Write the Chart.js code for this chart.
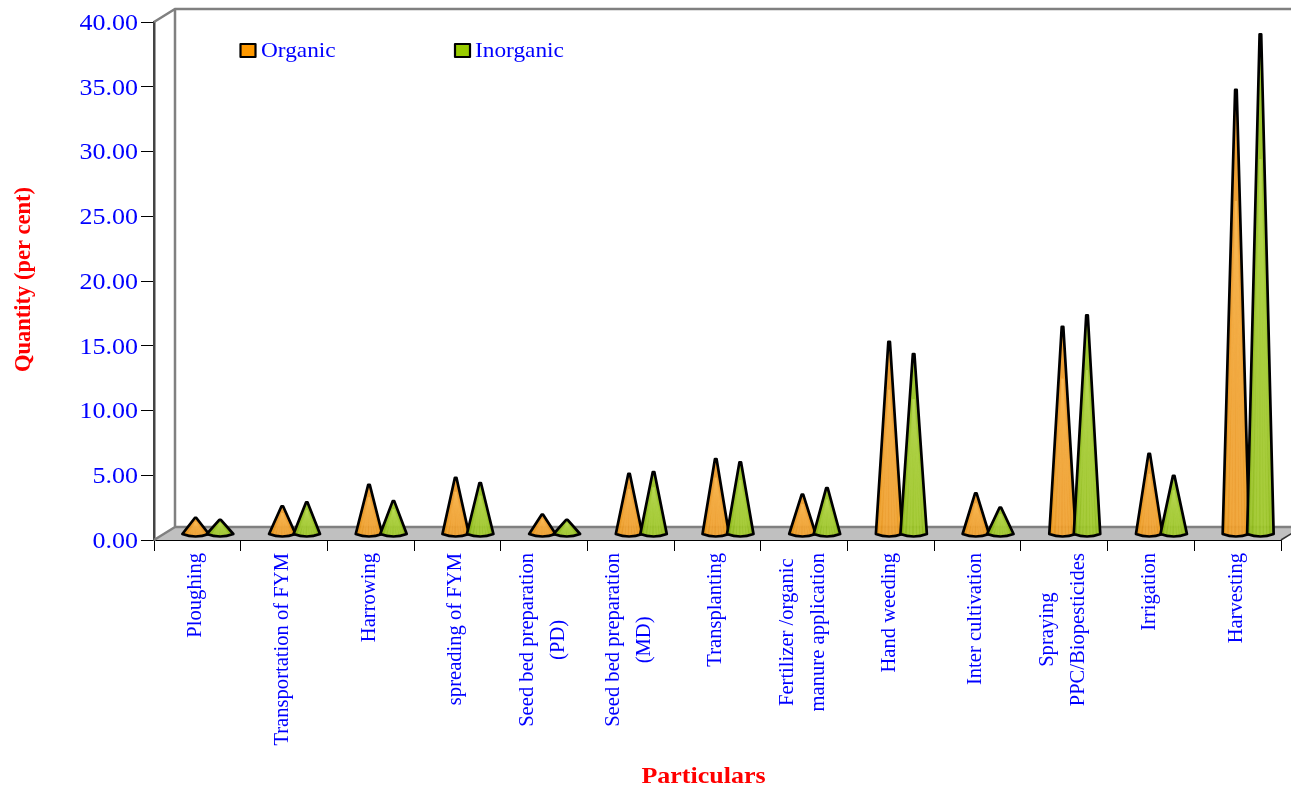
<!DOCTYPE html>
<html>
<head>
<meta charset="utf-8">
<title>Quantity by operation</title>
<script src="https://cdn.jsdelivr.net/npm/chart.js@4"></script>
<style>
  html, body { margin: 0; padding: 0; background: #fff; overflow: hidden; }
  canvas { display: block; }
</style>
</head>
<body>
<canvas id="coneChart" width="1291" height="788"></canvas>
<script>
// Data
const categories = [
    ['Ploughing'],
    ['Transportation of FYM'],
    ['Harrowing'],
    ['spreading of FYM'],
    ['Seed bed preparation', '(PD)'],
    ['Seed bed preparation', '(MD)'],
    ['Transplanting'],
    ['Fertilizer /organic', 'manure application'],
    ['Hand weeding'],
    ['Inter cultivation'],
    ['Spraying', 'PPC/Biopesticides'],
    ['Irrigation'],
    ['Harvesting']
];
const organic = [1.2, 2.1, 3.75, 4.3, 1.45, 4.6, 5.75, 3.0, 14.8, 3.1, 15.95, 6.15, 34.25];
const inorganic = [1.05, 2.4, 2.5, 3.9, 1.05, 4.75, 5.5, 3.5, 13.85, 2.0, 16.85, 4.45, 38.55];
const yMax = 40;
const yStep = 5;

const xTitle = 'Particulars';
const yTitle = 'Quantity (per cent)';

const BLUE = '#0000ff';
const RED = '#ff0000';
const SERIF = '"Liberation Serif", serif';
// the original picture is slightly wider than tall, so flat text is stretched in x
const STRETCH = 1.15;
const DEPTH_X = 21;
const DEPTH_Y = 13;

const coneStyles = [
    { edge: '#e68f0a', mid: '#ec9a28', swatch: '#ff9900', streak: 'rgba(250,185,85,0.35)' },
    { edge: '#82b00a', mid: '#98c222', swatch: '#99cc00', streak: 'rgba(185,218,85,0.35)' }
];
// streak positions across the base of a cone, -1 to 1
const streakOffsets = [-0.75, -0.45, -0.2, 0.1, 0.35, 0.6, 0.85];

function drawText(ctx, text, x, y, font, color, align, rotated) {
    ctx.save();
    ctx.translate(x, y);
    if (rotated) ctx.rotate(-Math.PI / 2);
    else ctx.scale(STRETCH, 1);
    ctx.font = font;
    ctx.fillStyle = color;
    ctx.textAlign = align;
    ctx.textBaseline = 'middle';
    ctx.fillText(text, 0, 0);
    ctx.restore();
}

// Back wall and floor of the 3D box
const boxPlugin = {
    id: 'box',
    beforeDatasetsDraw(chart) {
        const { ctx, chartArea: a } = chart;
        ctx.save();
        ctx.fillStyle = '#c0c0c0';
        ctx.beginPath();
        ctx.moveTo(a.left, a.bottom);
        ctx.lineTo(a.left + DEPTH_X, a.bottom - DEPTH_Y);
        ctx.lineTo(a.right + DEPTH_X, a.bottom - DEPTH_Y);
        ctx.lineTo(a.right, a.bottom);
        ctx.closePath();
        ctx.fill();

        ctx.strokeStyle = '#808080';
        ctx.lineWidth = 2.5;
        ctx.beginPath();
        ctx.moveTo(a.left, a.top);
        ctx.lineTo(a.left + DEPTH_X, a.top - DEPTH_Y);
        ctx.lineTo(a.right + DEPTH_X, a.top - DEPTH_Y);
        ctx.moveTo(a.left + DEPTH_X, a.top - DEPTH_Y);
        ctx.lineTo(a.left + DEPTH_X, a.bottom - DEPTH_Y);
        ctx.lineTo(a.right + DEPTH_X, a.bottom - DEPTH_Y);
        ctx.moveTo(a.left + DEPTH_X, a.bottom - DEPTH_Y);
        ctx.lineTo(a.left, a.bottom);
        ctx.stroke();

        ctx.strokeStyle = '#333';
        ctx.lineWidth = 1.5;
        ctx.beginPath();
        ctx.moveTo(a.right, a.bottom);
        ctx.lineTo(a.right + DEPTH_X, a.bottom - DEPTH_Y);
        ctx.stroke();
        ctx.restore();
    }
};

function drawCone(ctx, x, top, baseY, rx, style) {
    const bulge = 5;
    const path = () => {
        ctx.beginPath();
        ctx.moveTo(x - 0.8, top);
        ctx.lineTo(x + 0.8, top);
        ctx.lineTo(x + rx, baseY);
        ctx.quadraticCurveTo(x, baseY + bulge, x - rx, baseY);
        ctx.closePath();
    };
    const grad = ctx.createLinearGradient(x - rx, 0, x + rx, 0);
    grad.addColorStop(0, style.edge);
    grad.addColorStop(0.35, style.mid);
    grad.addColorStop(0.7, style.mid);
    grad.addColorStop(1, style.edge);

    ctx.save();
    path();
    ctx.globalAlpha = 0.94;
    ctx.fillStyle = grad;
    ctx.fill();
    ctx.clip();
    ctx.globalAlpha = 1;
    ctx.strokeStyle = style.streak;
    ctx.lineWidth = 2;
    streakOffsets.forEach(k => {
        ctx.beginPath();
        ctx.moveTo(x, top + (baseY - top) * 0.25);
        ctx.lineTo(x + k * rx, baseY + bulge);
        ctx.stroke();
    });
    ctx.restore();

    path();
    ctx.strokeStyle = '#000';
    ctx.lineWidth = 2.7;
    ctx.lineJoin = 'round';
    ctx.stroke();
}

// Bars are transparent: each one is redrawn as a cone from its own element position
const conePlugin = {
    id: 'cones',
    afterDatasetsDraw(chart) {
        const { ctx } = chart;
        chart.data.datasets.forEach((ds, i) => {
            chart.getDatasetMeta(i).data.forEach(bar => {
                drawCone(ctx, bar.x + DEPTH_X / 2, bar.y - DEPTH_Y / 2, bar.base - 5.5,
                    bar.width / 2 + 1, coneStyles[i]);
            });
        });
    }
};

// All text goes here so it can carry the horizontal stretch of the original
const textPlugin = {
    id: 'texts',
    afterDraw(chart) {
        const { ctx, scales } = chart;
        const tickFont = '22.6px ' + SERIF;
        const labelFont = '20.6px ' + SERIF;
        const yTitleFont = 'bold 22.5px ' + SERIF;
        const xTitleFont = 'bold 22.6px ' + SERIF;

        scales.y.ticks.forEach((t, i) => {
            drawText(ctx, t.value.toFixed(2), 138, scales.y.getPixelForTick(i) + 2, tickFont, BLUE, 'right');
        });

        categories.forEach((lines, i) => {
            const cx = scales.x.getPixelForValue(i) - 1.5;
            ctx.font = labelFont;
            const longest = Math.max(...lines.map(l => ctx.measureText(l).width));
            lines.forEach((line, j) => {
                const lx = cx + (j - (lines.length - 1) / 2) * 31;
                drawText(ctx, line, lx, 553 + longest / 2, labelFont, BLUE, 'center', true);
            });
        });

        drawText(ctx, yTitle, 24, 279.5, yTitleFont, RED, 'center', true);
        drawText(ctx, xTitle, 703.5, 777, xTitleFont, RED, 'center');

        // legend
        [[240.5, 261], [455, 475]].forEach((pos, i) => {
            ctx.fillStyle = coneStyles[i].swatch;
            ctx.strokeStyle = '#000';
            ctx.lineWidth = 2.2;
            ctx.fillRect(pos[0], 44, 15, 13);
            ctx.strokeRect(pos[0], 44, 15, 13);
            drawText(ctx, chart.data.datasets[i].label, pos[1], 52, '20.3px ' + SERIF, BLUE, 'left');
        });
    }
};

new Chart(document.getElementById('coneChart'), {
    type: 'bar',
    data: {
        labels: categories,
        datasets: [
            { label: 'Organic', data: organic, backgroundColor: 'rgba(0,0,0,0)' },
            { label: 'Inorganic', data: inorganic, backgroundColor: 'rgba(0,0,0,0)' }
        ]
    },
    options: {
        responsive: false,
        animation: false,
        devicePixelRatio: 1,
        datasets: { bar: { categoryPercentage: 0.565, barPercentage: 1 } },
        layout: { padding: { top: 22, right: 10, left: 0, bottom: 0 } },
        plugins: { legend: { display: false }, title: { display: false }, tooltip: { enabled: false } },
        scales: {
            x: {
                afterFit: s => { s.height = 248; },
                ticks: { display: false },
                border: { color: '#000', width: 2 },
                grid: { drawOnChartArea: false, color: '#000', tickColor: '#000', tickLength: 11, offset: true }
            },
            y: {
                min: 0,
                max: yMax,
                afterFit: s => { s.width = 154; },
                ticks: { display: false, stepSize: yStep },
                border: { color: '#444', width: 2.5 },
                grid: { drawOnChartArea: false, color: '#000', tickColor: '#000', tickLength: 13 }
            }
        }
    },
    plugins: [boxPlugin, conePlugin, textPlugin]
});
</script>
</body>
</html>
